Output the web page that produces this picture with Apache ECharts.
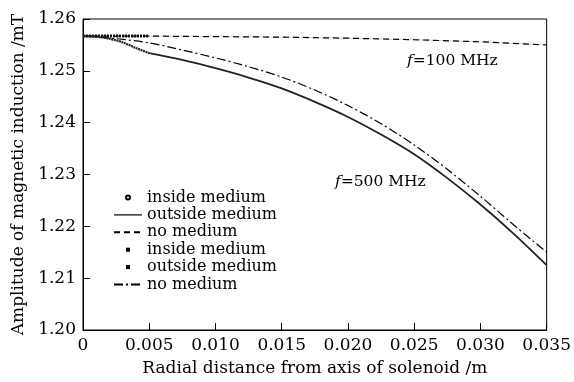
<!DOCTYPE html>
<html>
<head>
<meta charset="utf-8">
<script src="https://cdn.jsdelivr.net/npm/echarts@6/dist/echarts.min.js"></script>
<style>
html,body{margin:0;padding:0;background:#fff;}
#chart{width:574px;height:382px;}
</style>
</head>
<body>
<div id="chart"></div>
<script>
// ---- data ----
const xTickLabels = ['0', '0.005', '0.010', '0.015', '0.020', '0.025', '0.030', '0.035'];
const yTickLabels = ['1.20', '1.21', '1.22', '1.23', '1.24', '1.25', '1.26'];

// f = 100 MHz
const xInside100 = [0, 0.0025, 0.005];
const yInside100 = [1.2567, 1.2567, 1.2567];
const xOutside100 = [0.005, 0.010, 0.015, 0.020, 0.025, 0.030, 0.035];
const yOutside100 = [1.2567, 1.2566, 1.2565, 1.2563, 1.2560, 1.2556, 1.2550];
const xNoMed100 = [0, 0.005, 0.010, 0.015, 0.020, 0.025, 0.030, 0.035];
const yNoMed100 = [1.2567, 1.2567, 1.2566, 1.2565, 1.2563, 1.2560, 1.2556, 1.2550];

// f = 500 MHz
const xInside500 = [0, 0.001, 0.002, 0.003, 0.004, 0.005];
const yInside500 = [1.2567, 1.2566, 1.2562, 1.2555, 1.2544, 1.2534];
const xOutside500 = [0.005, 0.0075, 0.010, 0.0125, 0.015, 0.0175, 0.020, 0.0225, 0.025, 0.0275, 0.030, 0.0325, 0.035];
const yOutside500 = [1.2534, 1.2521, 1.2505, 1.2487, 1.2466, 1.2440, 1.2411, 1.2377, 1.2339, 1.2293, 1.2242, 1.2186, 1.2125];
const xNoMed500 = [0, 0.0025, 0.005, 0.0075, 0.010, 0.0125, 0.015, 0.0175, 0.020, 0.0225, 0.025, 0.0275, 0.030, 0.0325, 0.035];
const yNoMed500 = [1.2567, 1.2562, 1.2554, 1.2540, 1.2525, 1.2508, 1.2488, 1.2463, 1.2433, 1.2398, 1.2357, 1.2310, 1.2258, 1.2203, 1.2150];

const legendNames = {
  a1: 'inside medium', a2: 'outside medium', a3: 'no medium',
  a4: 'inside medium', a5: 'outside medium', a6: 'no medium'
};

function pairs(xs, ys) { return xs.map((x, i) => [x, ys[i]]); }

const FONT = 'DejaVu Serif';
const TXT = '#000';

const chart = echarts.init(document.getElementById('chart'), null, {renderer: 'canvas'});
chart.setOption({
  animation: false,
  backgroundColor: '#fff',
  grid: {left: 83, right: 23, top: 19, bottom: 48, show: true, borderColor: '#000', borderWidth: 1},
  xAxis: {
    type: 'value', min: 0, max: 0.035, interval: 0.005,
    axisLine: {lineStyle: {color: '#000', width: 1}},
    axisTick: {inside: true, length: 7, lineStyle: {color: '#000'}},
    splitLine: {show: false},
    axisLabel: {
      color: TXT, fontFamily: FONT, fontSize: 17, margin: 7,
      formatter: v => xTickLabels[Math.round(v / 0.005)]
    },
    name: 'Radial distance from axis of solenoid /m',
    nameLocation: 'middle', nameGap: 30,
    nameTextStyle: {color: TXT, fontFamily: FONT, fontSize: 17}
  },
  yAxis: {
    type: 'value', min: 1.20, max: 1.26, interval: 0.01,
    axisLine: {lineStyle: {color: '#000', width: 1}},
    axisTick: {inside: true, length: 7, lineStyle: {color: '#000'}},
    splitLine: {show: false},
    axisLabel: {
      color: TXT, fontFamily: FONT, fontSize: 17, margin: 7,
      formatter: v => yTickLabels[Math.round((v - 1.20) / 0.01)]
    },
    name: 'Amplitude of magnetic induction /mT',
    nameLocation: 'middle', nameGap: 50, nameRotate: 90,
    nameTextStyle: {color: TXT, fontFamily: FONT, fontSize: 17}
  },
  legend: {
    orient: 'vertical', left: 113, top: 189, padding: 0,
    itemWidth: 28, itemHeight: 5, itemGap: 0.4,
    selectedMode: false,
    textStyle: {color: TXT, fontFamily: FONT, fontSize: 16, lineHeight: 17},
    formatter: n => legendNames[n],
    data: [
      {name: 'a1', lineStyle: {opacity: 0}},
      {name: 'a2', itemStyle: {opacity: 0}, lineStyle: {color: '#000', width: 1.2, opacity: 1}},
      {name: 'a3', itemStyle: {opacity: 0}},
      {name: 'a4', lineStyle: {opacity: 0}},
      {name: 'a5', lineStyle: {opacity: 0}},
      {name: 'a6', itemStyle: {opacity: 0}}
    ]
  },
  series: [
    {name: 'a2', type: 'line', data: pairs(xOutside100, yOutside100), symbol: 'none', showSymbol: false,
     lineStyle: {color: '#c8c8c8', width: 0.8, type: 'solid'}, itemStyle: {color: '#000'}, z: 1},
    {name: 'a3', type: 'line', data: pairs(xNoMed100, yNoMed100), symbol: 'none', showSymbol: false,
     lineStyle: {color: '#000', width: 1.2, type: [6, 4]}, itemStyle: {color: '#000'}, z: 2},
    {name: 'a1', type: 'line', data: pairs(xInside100, yInside100), symbol: 'emptyCircle', showSymbol: false,
     lineStyle: {color: '#111', width: 3, type: [2, 1]}, itemStyle: {color: '#000'}, z: 3},
    {name: 'a6', type: 'line', data: pairs(xNoMed500, yNoMed500), symbol: 'none', showSymbol: false, smooth: 0.3,
     lineStyle: {color: '#000', width: 1.2, type: [9, 3, 2, 3]}, itemStyle: {color: '#000'}, z: 2},
    {name: 'a4', type: 'line', data: pairs(xInside500, yInside500), symbol: 'rect', showSymbol: false, smooth: 0.3,
     lineStyle: {color: '#222', width: 2.2, type: [2, 0.6]}, itemStyle: {color: '#000'}, z: 3},
    {name: 'a5', type: 'line', data: pairs(xOutside500, yOutside500), symbol: 'rect', showSymbol: false, smooth: 0.3,
     lineStyle: {color: '#222', width: 1.8, type: 'solid'}, itemStyle: {color: '#000'}, z: 3}
  ],
  graphic: [
    {type: 'text', left: 407, top: 53, silent: true,
     style: {text: '{i|f}=100 MHz', fill: TXT, font: '15.5px "DejaVu Serif"',
             rich: {i: {fontStyle: 'italic', fontFamily: FONT, fontSize: 15.5, fill: TXT}}}},
    {type: 'text', left: 335, top: 174, silent: true,
     style: {text: '{i|f}=500 MHz', fill: TXT, font: '15.5px "DejaVu Serif"',
             rich: {i: {fontStyle: 'italic', fontFamily: FONT, fontSize: 15.5, fill: TXT}}}}
  ]
});
</script>
</body>
</html>
